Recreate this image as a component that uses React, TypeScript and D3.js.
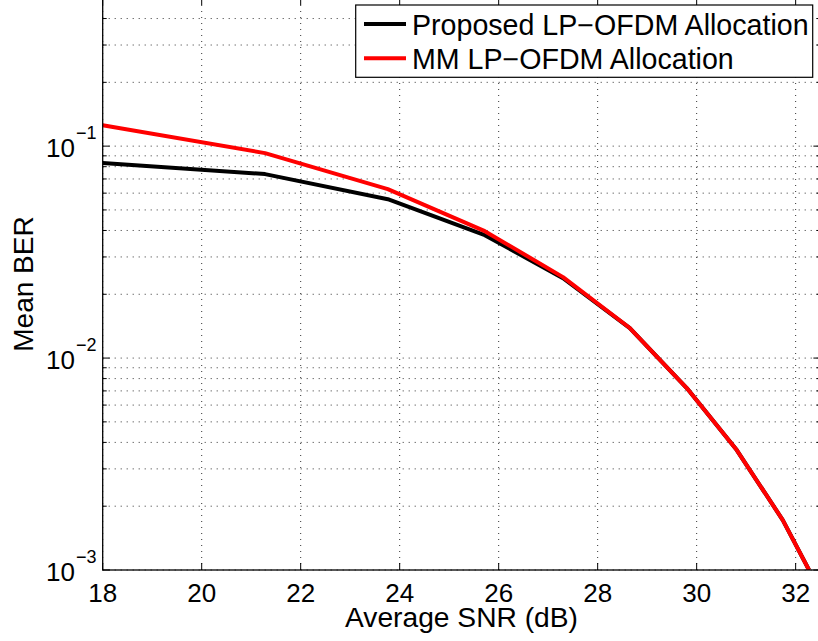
import React from "react";
import * as d3 from "d3";

const snr = [18, 21.28, 23.76, 25.72, 27.3, 28.65, 29.8, 30.81, 31.74, 32.27];
const proposedBER = [0.0832, 0.0738, 0.0562, 0.038, 0.0238, 0.01386, 0.00722, 0.00368, 0.00172, 0.001];
const mmBER = [0.1256, 0.0927, 0.0627, 0.0397, 0.0241, 0.01386, 0.00722, 0.00368, 0.00172, 0.001];
const xTicks = [18, 20, 22, 24, 26, 28, 30, 32];
const yDecades = [1e-3, 1e-2, 1e-1];
const yExponents = ["−3", "−2", "−1"];
const seriesNames = ["Proposed LP−OFDM Allocation", "MM LP−OFDM Allocation"];
const seriesColors = ["#000000", "#ff0000"];

const W = 818;
const H = 641;
const L = 102.7;
const R = 820.4;
const T = -2;
const B = 570;
const FONT = "'Liberation Sans', Arial, Helvetica, sans-serif";

export default function App() {
  const x = d3.scaleLinear().domain([18, 32.5]).range([L, R]);
  const y = d3.scaleLog().domain([1e-3, 0.5]).range([B, T]);

  const minorY: number[] = [];
  for (const d of yDecades) {
    for (let k = 1; k <= 9; k++) {
      const v = d * k;
      if (v <= 0.5 + 1e-12) minorY.push(v);
    }
  }

  const line = d3
    .line<[number, number]>()
    .x((d) => x(d[0]))
    .y((d) => y(d[1]));

  const series = [proposedBER, mmBER].map((vals) =>
    snr.map((s, i) => [s, vals[i]] as [number, number])
  );

  return (
    <svg
      width={W}
      height={H}
      style={{ position: "absolute", left: 0, top: 0, display: "block", background: "#fff" }}
      fontFamily={FONT}
    >
      <defs>
        <clipPath id="plotclip">
          <rect x={L} y={T} width={R - L} height={B - T} />
        </clipPath>
      </defs>
      <rect x={0} y={0} width={W} height={H} fill="#fff" />
      {/* grid */}
      <g stroke="#333" strokeWidth={1} strokeDasharray="1 5">
        {xTicks.map((t) => (
          <line key={"gx" + t} x1={x(t)} x2={x(t)} y1={B} y2={T} />
        ))}
        {minorY.map((v, i) => (
          <line key={"gy" + i} x1={L} x2={R} y1={y(v)} y2={y(v)} />
        ))}
      </g>
      {/* ticks */}
      <g stroke="#000" strokeWidth={1}>
        {xTicks.map((t) => (
          <g key={"tx" + t}>
            <line x1={x(t)} x2={x(t)} y1={B} y2={B - 7} />
            <line x1={x(t)} x2={x(t)} y1={T} y2={T + 7} />
          </g>
        ))}
        {minorY.map((v, i) => {
          const major = yDecades.some((d) => Math.abs(d - v) < 1e-12);
          const len = major ? 7 : 4;
          return (
            <g key={"ty" + i}>
              <line x1={L} x2={L + len} y1={y(v)} y2={y(v)} />
              <line x1={R} x2={R - len} y1={y(v)} y2={y(v)} />
            </g>
          );
        })}
      </g>
      {/* series */}
      <g clipPath="url(#plotclip)" fill="none" strokeLinejoin="round">
        {series.map((s, i) => (
          <path key={"s" + i} d={line(s) || ""} stroke={seriesColors[i]} strokeWidth={4} />
        ))}
      </g>
      {/* axes box */}
      <rect x={L} y={T} width={R - L} height={B - T} fill="none" stroke="#000" strokeWidth={1.3} />
      {/* x tick labels */}
      <g fontSize={26} textAnchor="middle" fill="#000">
        {xTicks.map((t) => (
          <text key={"lx" + t} x={x(t)} y={601.5}>
            {t}
          </text>
        ))}
      </g>
      {/* y tick labels */}
      {yDecades.map((d, i) => (
        <g key={"ly" + i} fill="#000">
          <text x={75} y={y(d) + 11} fontSize={26} textAnchor="end">
            10
          </text>
          <text x={76} y={y(d) - 7} fontSize={18} textAnchor="start">
            {yExponents[i]}
          </text>
        </g>
      ))}
      {/* axis labels */}
      <text x={461.5} y={627} fontSize={28.2} textAnchor="middle" fill="#000">
        Average SNR (dB)
      </text>
      <text
        transform={`translate(33, ${(B + T) / 2}) rotate(-90)`}
        fontSize={28}
        textAnchor="middle"
        fill="#000"
      >
        Mean BER
      </text>
      {/* legend */}
      <g>
        <rect x={355.7} y={5} width={457} height={72.3} fill="#fff" stroke="#000" strokeWidth={1.2} />
        {seriesNames.map((n, i) => (
          <g key={"lg" + i}>
            <line
              x1={364}
              x2={406}
              y1={24 + i * 34.3}
              y2={24 + i * 34.3}
              stroke={seriesColors[i]}
              strokeWidth={4}
            />
            <text x={412} y={35 + i * 33.5} fontSize={28.6} fill="#000">
              {n}
            </text>
          </g>
        ))}
      </g>
    </svg>
  );
}
